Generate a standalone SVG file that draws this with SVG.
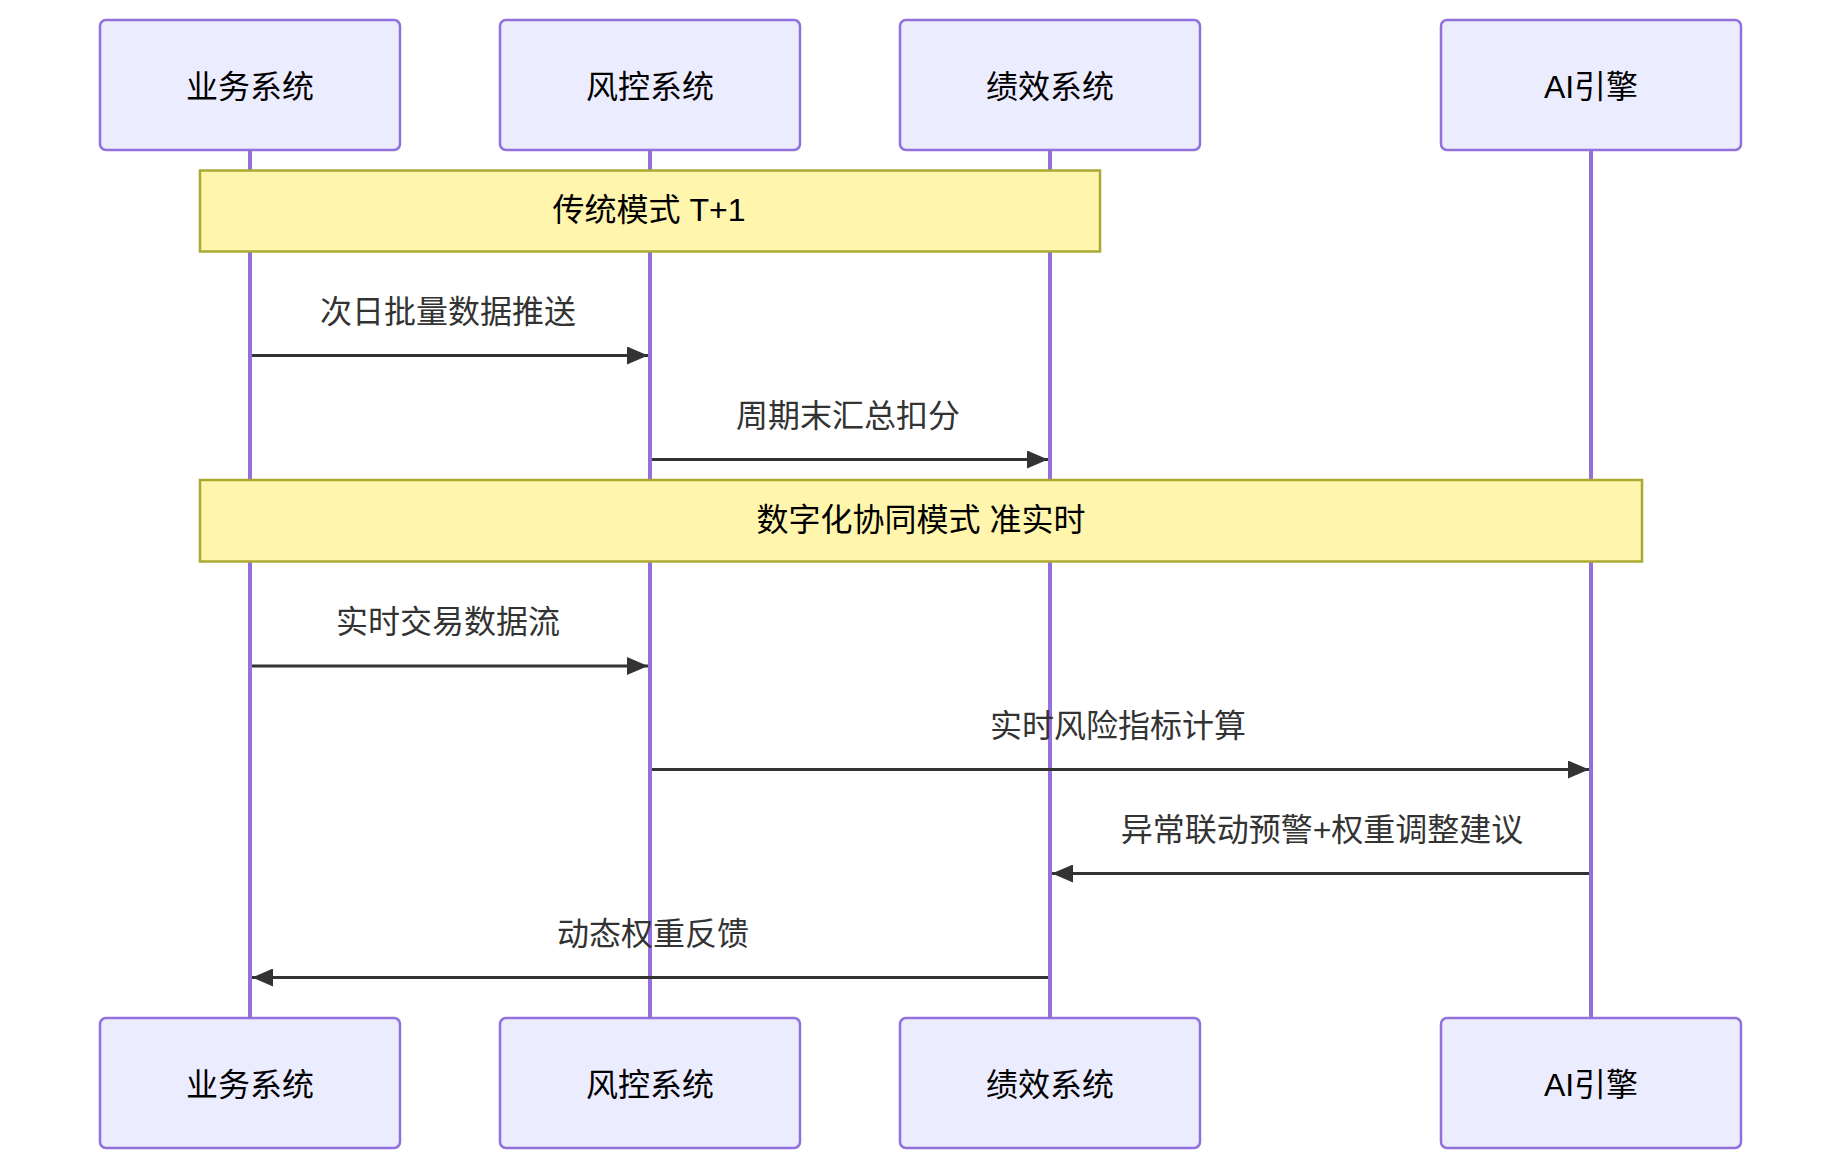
<svg xmlns="http://www.w3.org/2000/svg" width="1842" height="1170" viewBox="0 0 1842 1170">
<defs>
<style>
.actor{fill:#ECECFF;stroke:#9370DB;stroke-width:2.5}
.atext{font-family:"Liberation Sans","Noto Sans CJK SC",sans-serif;font-size:32px;fill:#000;text-anchor:middle;dominant-baseline:central}
.life{stroke:#9370DB;stroke-width:4;fill:none}
.note{fill:#FFF5AD;stroke:#AAAA33;stroke-width:2.5}
.ntext{font-family:"Liberation Sans","Noto Sans CJK SC",sans-serif;font-size:32px;fill:#000;text-anchor:middle;dominant-baseline:central}
.msg{stroke:#333;stroke-width:3;fill:none;marker-end:url(#arrow)}
.mtext{font-family:"Liberation Sans","Noto Sans CJK SC",sans-serif;font-size:32px;fill:#333;text-anchor:middle;dominant-baseline:central}
</style>
<marker id="arrow" markerUnits="userSpaceOnUse" viewBox="0 0 21 18" refX="21" refY="9" markerWidth="21" markerHeight="18" orient="auto">
<path d="M0,0 L21,9 L0,18 z" fill="#333"/>
</marker>
</defs>
<rect width="1842" height="1170" fill="#fff"/>
<g id="lifelines">
<line class="life" x1="250" y1="150" x2="250" y2="1018"/>
<line class="life" x1="650" y1="150" x2="650" y2="1018"/>
<line class="life" x1="1050" y1="150" x2="1050" y2="1018"/>
<line class="life" x1="1591" y1="150" x2="1591" y2="1018"/>
</g>
<g id="note1">
<rect class="note" x="200" y="170.5" width="900" height="81"/>
<text class="ntext" x="649" y="210">传统模式 T+1</text>
</g>
<g id="note2">
<rect class="note" x="200" y="480" width="1442" height="81.5"/>
<text class="ntext" x="921" y="520">数字化协同模式 准实时</text>
</g>
<g id="connectors">
<line class="msg" x1="252" y1="355.5" x2="648" y2="355.5"/>
<text class="mtext" x="448" y="312">次日批量数据推送</text>
<line class="msg" x1="652" y1="459.5" x2="1048" y2="459.5"/>
<text class="mtext" x="848" y="416">周期末汇总扣分</text>
<line class="msg" x1="252" y1="666" x2="648" y2="666"/>
<text class="mtext" x="448" y="622">实时交易数据流</text>
<line class="msg" x1="652" y1="769.5" x2="1589" y2="769.5"/>
<text class="mtext" x="1118" y="726">实时风险指标计算</text>
<line class="msg" x1="1589" y1="873.5" x2="1052" y2="873.5"/>
<text class="mtext" x="1322" y="830">异常联动预警+权重调整建议</text>
<line class="msg" x1="1048" y1="977.5" x2="252" y2="977.5"/>
<text class="mtext" x="653" y="934">动态权重反馈</text>
</g>
<g id="actor-yewu-top"><rect class="actor" x="100" y="20" width="300" height="130" rx="6"/><text class="atext" x="250" y="87">业务系统</text></g>
<g id="actor-fengkong-top"><rect class="actor" x="500" y="20" width="300" height="130" rx="6"/><text class="atext" x="650" y="87">风控系统</text></g>
<g id="actor-jixiao-top"><rect class="actor" x="900" y="20" width="300" height="130" rx="6"/><text class="atext" x="1050" y="87">绩效系统</text></g>
<g id="actor-ai-top"><rect class="actor" x="1441" y="20" width="300" height="130" rx="6"/><text class="atext" x="1591" y="87">AI引擎</text></g>
<g id="actor-yewu-bottom"><rect class="actor" x="100" y="1018" width="300" height="130" rx="6"/><text class="atext" x="250" y="1085">业务系统</text></g>
<g id="actor-fengkong-bottom"><rect class="actor" x="500" y="1018" width="300" height="130" rx="6"/><text class="atext" x="650" y="1085">风控系统</text></g>
<g id="actor-jixiao-bottom"><rect class="actor" x="900" y="1018" width="300" height="130" rx="6"/><text class="atext" x="1050" y="1085">绩效系统</text></g>
<g id="actor-ai-bottom"><rect class="actor" x="1441" y="1018" width="300" height="130" rx="6"/><text class="atext" x="1591" y="1085">AI引擎</text></g>
</svg>
